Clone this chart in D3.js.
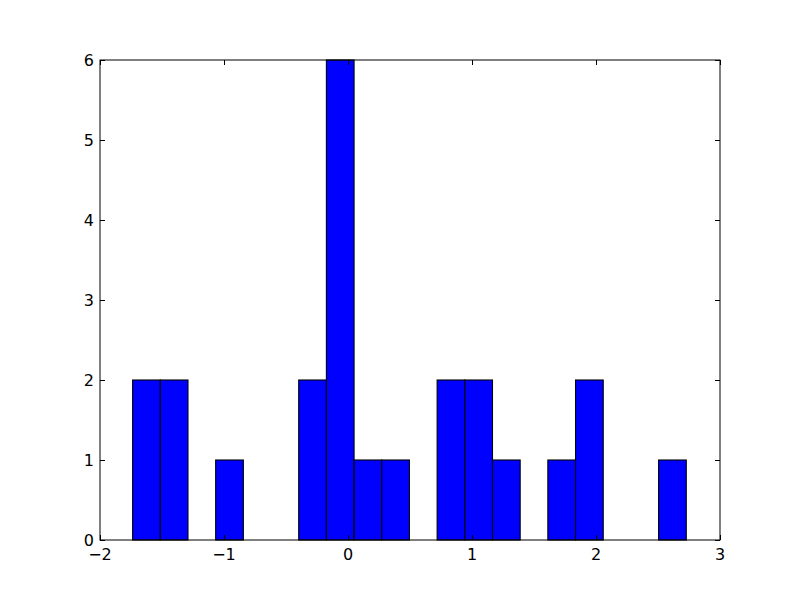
<!DOCTYPE html>
<html><head><meta charset="utf-8">
<script src="https://cdn.jsdelivr.net/npm/d3@7"></script>
<style>body{margin:0;background:#fff}</style>
</head><body>
<svg id="c" width="800" height="600"></svg>
<script>
const binStart = -1.737;
const binEnd = 2.728;
const counts = [2,2,0,1,0,0,2,6,1,1,0,2,2,1,0,1,2,0,0,1];
const xTicks = [-2,-1,0,1,2,3];
const yTicks = [0,1,2,3,4,5,6];

const svg = d3.select("#c");
const L=100,R=720,T=60,B=540;
const x = d3.scaleLinear().domain([-2,3]).range([L,R]);
const y = d3.scaleLinear().domain([0,6]).range([B,T]);
const w = (binEnd-binStart)/counts.length;
const bins = counts.map((c,i)=>({x0:binStart+i*w, x1:binStart+(i+1)*w, c}));

svg.append("rect").attr("width",800).attr("height",600).attr("fill","#fff");
svg.selectAll("rect.bar").data(bins.filter(d=>d.c>0)).join("rect").attr("class","bar")
  .attr("x",d=>x(d.x0)).attr("width",d=>x(d.x1)-x(d.x0))
  .attr("y",d=>y(d.c)).attr("height",d=>y(0)-y(d.c))
  .attr("fill","#0000ff").attr("stroke","#000").attr("stroke-width",1.1);

const font = "DejaVu Sans";
const tl = 5;
const g = svg.append("g").attr("stroke","#000").attr("stroke-width",1);
xTicks.forEach(v=>{
  const px = Math.round(x(v))+0.5;
  g.append("line").attr("x1",px).attr("x2",px).attr("y1",B).attr("y2",B-tl);
  g.append("line").attr("x1",px).attr("x2",px).attr("y1",T).attr("y2",T+tl);
});
yTicks.forEach(v=>{
  const py = Math.round(y(v))+0.5;
  g.append("line").attr("x1",L).attr("x2",L+tl).attr("y1",py).attr("y2",py);
  g.append("line").attr("x1",R).attr("x2",R-tl).attr("y1",py).attr("y2",py);
});
svg.append("rect").attr("x",L).attr("y",T).attr("width",R-L).attr("height",B-T)
  .attr("fill","none").attr("stroke","#000").attr("stroke-width",1);

svg.selectAll("text.xt").data(xTicks).join("text").attr("class","xt")
  .attr("x",d=>x(d)).attr("y",B+20).attr("text-anchor","middle")
  .attr("font-family",font).attr("font-size",16)
  .text(d=>d<0?"\u2212"+Math.abs(d):String(d));
svg.selectAll("text.yt").data(yTicks).join("text").attr("class","yt")
  .attr("x",L-6).attr("y",d=>y(d)+5.5).attr("text-anchor","end")
  .attr("font-family",font).attr("font-size",16)
  .text(d=>String(d));
</script>
</body></html>
